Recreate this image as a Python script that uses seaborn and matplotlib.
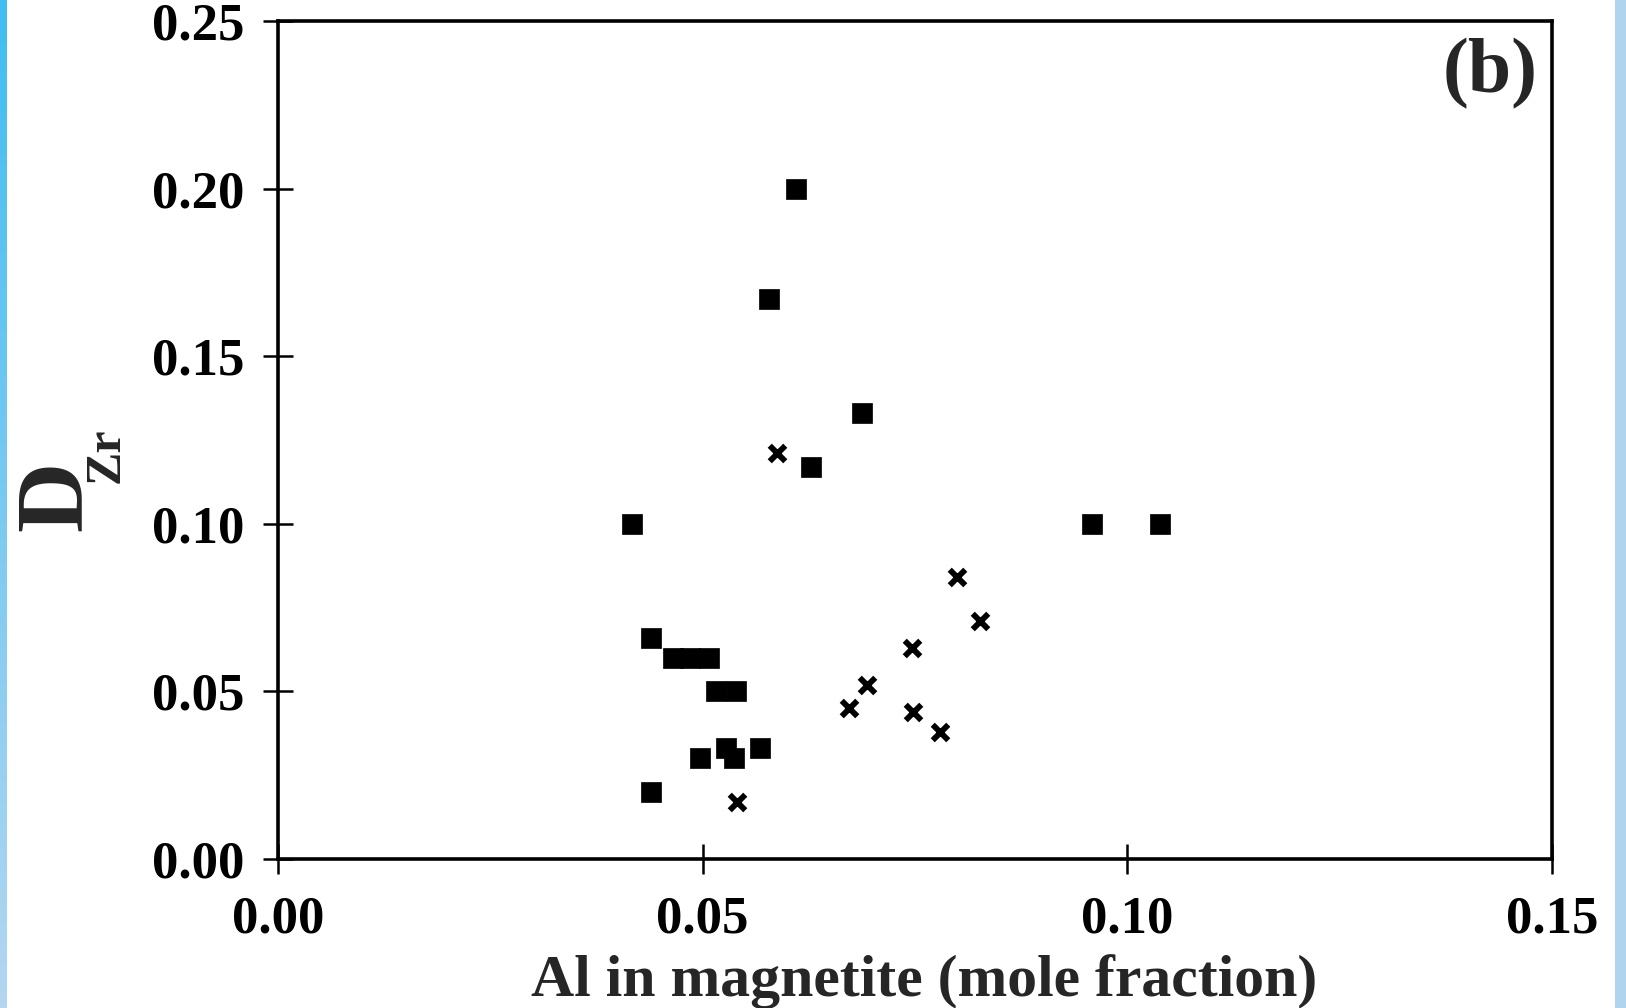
import numpy as np
import pandas as pd
import seaborn as sns
import matplotlib
matplotlib.use("Agg")
import matplotlib.pyplot as plt
from matplotlib.colors import LinearSegmentedColormap
from matplotlib.patches import Rectangle

# ---- data ----
square_al = [0.0610, 0.0578, 0.0688, 0.0627, 0.0417, 0.0958, 0.1038,
             0.0439, 0.0465, 0.0485, 0.0507, 0.0516, 0.0539,
             0.0527, 0.0568, 0.0497, 0.0537, 0.0439]
square_d = [0.200, 0.167, 0.133, 0.117, 0.100, 0.100, 0.100,
            0.066, 0.060, 0.060, 0.060, 0.050, 0.050,
            0.033, 0.033, 0.030, 0.030, 0.020]

cross_al = [0.0588, 0.0800, 0.0826, 0.0747, 0.0694, 0.0672, 0.0748, 0.0779, 0.0540]
cross_d = [0.121, 0.084, 0.071, 0.063, 0.052, 0.045, 0.044, 0.038, 0.017]

x_ticks = [0.00, 0.05, 0.10, 0.15]
y_ticks = [0.00, 0.05, 0.10, 0.15, 0.20, 0.25]
x_label = "Al in magnetite (mole fraction)"
panel_label = "(b)"

sq = pd.DataFrame({"al": square_al, "d": square_d})
cr = pd.DataFrame({"al": cross_al, "d": cross_d})

sns.set_theme(style="white")
plt.rcParams["font.family"] = ["Liberation Serif", "DejaVu Serif"]
plt.rcParams["font.weight"] = "bold"

W, H = 1626, 1008
fig = plt.figure(figsize=(W / 100, H / 100), dpi=100)
fig.patch.set_facecolor("white")
ax = fig.add_axes([278 / W, 1 - 859 / H, (1552 - 278) / W, (859 - 21) / H])
ax.set_facecolor("white")

sns.scatterplot(data=sq, x="al", y="d", marker="s", s=190, color="black",
                edgecolor="black", linewidth=0.5, ax=ax, zorder=3)
sns.scatterplot(data=cr, x="al", y="d", marker="x", s=125, color="black",
                linewidth=4.2, ax=ax, zorder=3)

ax.set_xlim(0, 0.15)
ax.set_ylim(0, 0.25)
ax.set_xticks(x_ticks)
ax.set_yticks(y_ticks)
ax.set_xticklabels([f"{v:.2f}" for v in x_ticks])
ax.set_yticklabels([f"{v:.2f}" for v in y_ticks])
ax.set_xlabel("")
ax.set_ylabel("")

for sp in ax.spines.values():
    sp.set_visible(True)
    sp.set_color("black")
    sp.set_linewidth(2.6)

ax.tick_params(axis="both", which="major", direction="inout", length=21,
               width=1.8, color="black", labelsize=38, labelcolor="black")
ax.tick_params(axis="x", pad=16, bottom=True)
ax.tick_params(axis="y", pad=14, left=True)
for lab in ax.get_xticklabels() + ax.get_yticklabels():
    lab.set_fontweight("bold")

# axis labels
fig.text(924 / W, 1 - 996 / H, x_label, ha="center", va="baseline",
         fontsize=43, fontweight="bold")
fig.text(82 / W, 1 - 496 / H, "D", rotation=90, rotation_mode="anchor",
         ha="center", va="baseline", fontsize=70, fontweight="bold")
fig.text(119 / W, 1 - 455 / H, "Zr", rotation=90, rotation_mode="anchor",
         ha="center", va="baseline", fontsize=36, fontweight="bold")

# panel label
fig.text(1538 / W, 1 - 92 / H, panel_label, ha="right", va="baseline",
         fontsize=56, fontweight="bold")

# side strips
cmap = LinearSegmentedColormap.from_list("strip", ["#40bdf2", "#b4d6f0"])
sax = fig.add_axes([0, 0, 6 / W, 1])
sax.imshow(np.linspace(0, 1, 256).reshape(-1, 1), aspect="auto", cmap=cmap)
sax.axis("off")
fig.add_artist(Rectangle((1615 / W, 0), 11 / W, 1, transform=fig.transFigure,
                         facecolor="#b0d4ee", edgecolor="none"))

fig.savefig("out.png", dpi=100)
